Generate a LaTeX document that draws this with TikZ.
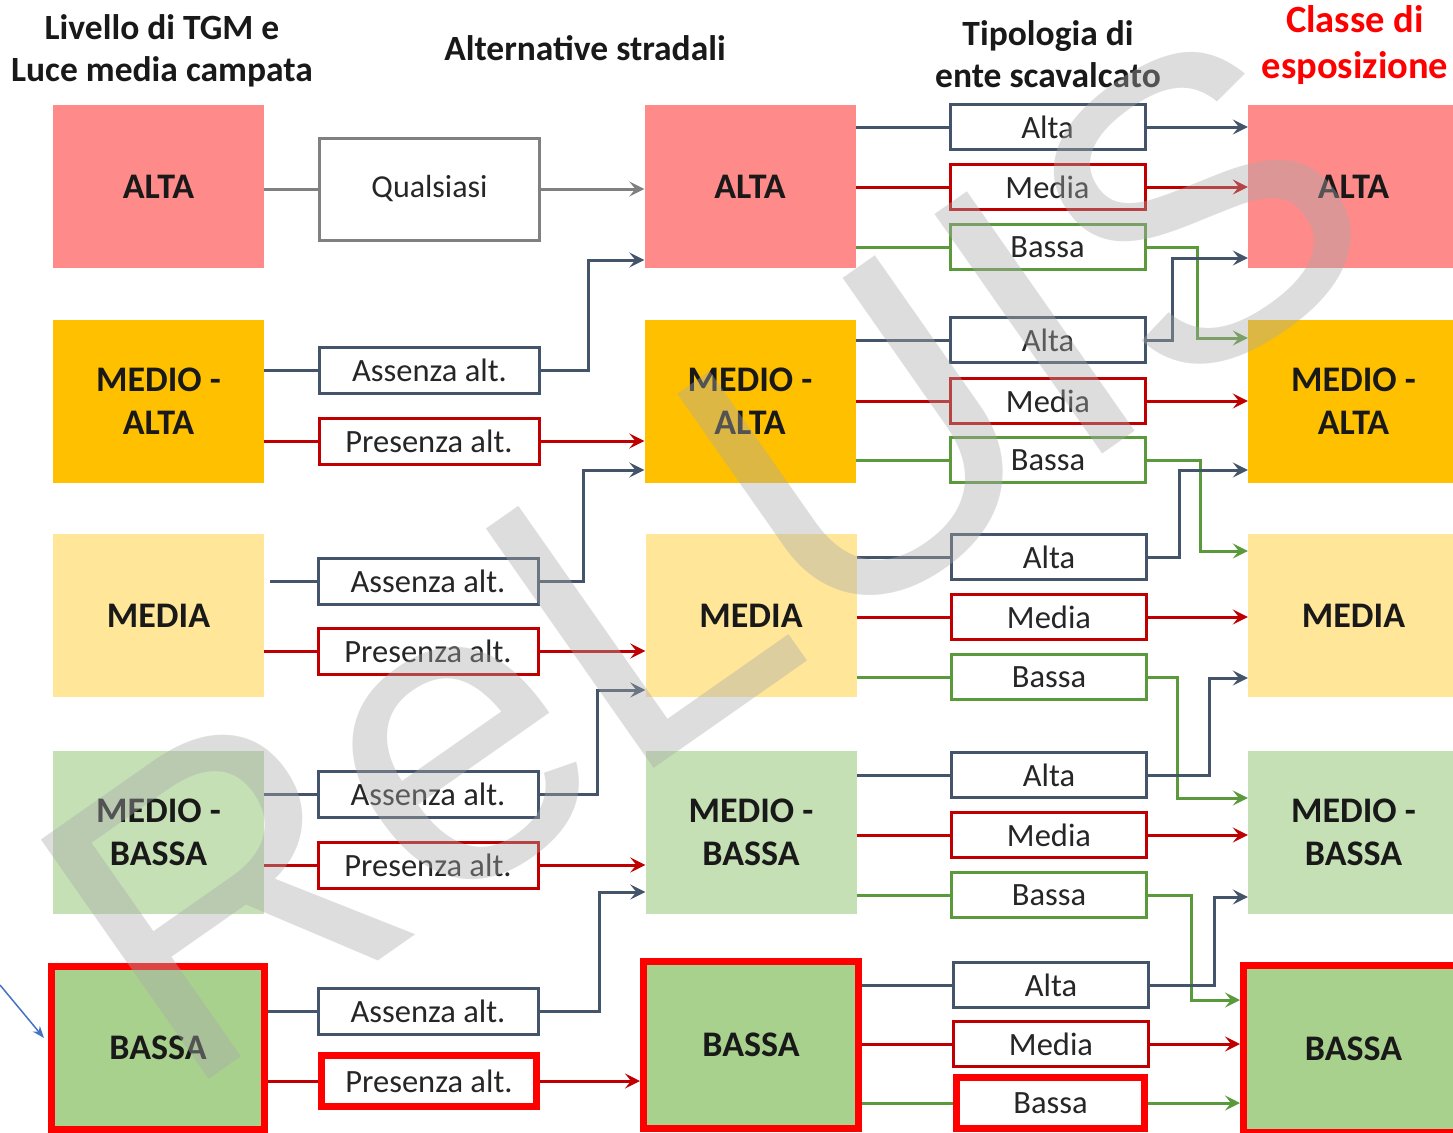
\documentclass[tikz,border=0pt]{standalone}
\usepackage{fontspec}
\setmainfont{Carlito}
\newfontfamily\wmfont{Liberation Sans}
\usetikzlibrary{arrows.meta,calc}
\definecolor{slate}{HTML}{44546A}
\definecolor{dred}{HTML}{C00000}
\definecolor{dgreen}{HTML}{5A9A3C}
\definecolor{qgray}{HTML}{808080}
\definecolor{hired}{HTML}{FF0000}
\definecolor{cAlta}{HTML}{FF8A8A}
\definecolor{cMA}{HTML}{FFC000}
\definecolor{cMedia}{HTML}{FFE699}
\definecolor{cMB}{HTML}{C5E0B4}
\definecolor{cBassa}{HTML}{A9D18E}
\definecolor{wmgray}{RGB}{170,170,170}
\definecolor{wire}{HTML}{4472C4}
\begin{document}
\begin{tikzpicture}[x=1pt,y=-1pt,
  big/.style={minimum width=211pt, minimum height=163pt, inner sep=0pt, align=center,
    font=\fontsize{36}{43}\selectfont\bfseries, text=black!90},
  altbox/.style={draw, line width=3pt, fill=white, minimum width=220pt, minimum height=46pt,
    inner sep=0pt, font=\fontsize{32.5}{36}\selectfont, text=black!85},
  typbox/.style={draw, line width=3pt, fill=white, minimum width=195pt, minimum height=45pt,
    inner sep=0pt, font=\fontsize{32.5}{36}\selectfont, text=black!85},
  hl/.style={draw=hired, line width=7pt},
  head/.style={align=center, font=\fontsize{35.5}{42}\selectfont\bfseries, text=black!90},
  conn/.style={line width=3pt},
  arr/.style={conn, -{Stealth[length=15pt,width=15pt,inset=6pt]}}
]
\useasboundingbox (0,0) rectangle (1453,1132);
\fill[white] (0,0) rectangle (1453,1132);

% headers
\node[head] (h1) at (162,51) {Livello di TGM e\\Luce media campata};
\node[head] (h2) at (585,48) {Alternative stradali};
\node[head] (h3) at (1048,54) {Tipologia di\\ente scavalcato};
\node[head, text=hired, font=\fontsize{38.5}{46}\selectfont\bfseries] (h4) at (1355,45) {Classe di\\esposizione};

% column 1
\node[big, fill=cAlta]  (c1r1) at (158.5,186.5) {ALTA};
\node[big, fill=cMA]    (c1r2) at (158.5,401) {MEDIO -\\ALTA};
\node[big, fill=cMedia] (c1r3) at (158.5,615.5) {MEDIA};
\node[big, fill=cMB]    (c1r4) at (158.5,832.5) {MEDIO -\\BASSA};
\node[big, fill=cBassa, hl, minimum width=213pt, minimum height=163pt] (c1r5) at (158,1048) {BASSA};

% column 3
\node[big, fill=cAlta]  (c3r1) at (750,186.5) {ALTA};
\node[big, fill=cMA]    (c3r2) at (750,401) {MEDIO -\\ALTA};
\node[big, fill=cMedia] (c3r3) at (751,615.5) {MEDIA};
\node[big, fill=cMB]    (c3r4) at (751,832.5) {MEDIO -\\BASSA};
\node[big, fill=cBassa, hl, minimum width=215pt, minimum height=167pt] (c3r5) at (751,1045) {BASSA};

% column 5
\node[big, fill=cAlta]  (c5r1) at (1353.5,186.5) {ALTA};
\node[big, fill=cMA]    (c5r2) at (1353.5,401) {MEDIO -\\ALTA};
\node[big, fill=cMedia] (c5r3) at (1353.5,615.5) {MEDIA};
\node[big, fill=cMB]    (c5r4) at (1353.5,832.5) {MEDIO -\\BASSA};
\node[big, fill=cBassa, hl, minimum width=220pt, minimum height=167pt] (c5r5) at (1353.5,1049) {BASSA};

% column 2
\node[altbox, draw=qgray, minimum height=102pt, font=\fontsize{32}{36}\selectfont] (q) at (429.5,189) {Qualsiasi};
\node[altbox, draw=slate] (a2) at (429.5,370) {Assenza alt.};
\node[altbox, draw=dred]  (p2) at (429,441) {Presenza alt.};
\node[altbox, draw=slate] (a3) at (428,581) {Assenza alt.};
\node[altbox, draw=dred]  (p3) at (428,651) {Presenza alt.};
\node[altbox, draw=slate] (a4) at (428,794) {Assenza alt.};
\node[altbox, draw=dred]  (p4) at (428,865) {Presenza alt.};
\node[altbox, draw=slate] (a5) at (428,1011) {Assenza alt.};
\node[altbox, hl, minimum width=215pt, minimum height=51pt] (p5) at (429,1081) {Presenza alt.};

% column 4
\node[typbox, draw=slate]  (t1a) at (1047.5,127) {Alta};
\node[typbox, draw=dred]   (t1m) at (1047.5,187) {Media};
\node[typbox, draw=dgreen] (t1b) at (1047.5,247) {Bassa};
\node[typbox, draw=slate]  (t2a) at (1048,340) {Alta};
\node[typbox, draw=dred]   (t2m) at (1048,401) {Media};
\node[typbox, draw=dgreen] (t2b) at (1048,460) {Bassa};
\node[typbox, draw=slate]  (t3a) at (1049,557) {Alta};
\node[typbox, draw=dred]   (t3m) at (1049,617) {Media};
\node[typbox, draw=dgreen] (t3b) at (1049,677) {Bassa};
\node[typbox, draw=slate]  (t4a) at (1049,775) {Alta};
\node[typbox, draw=dred]   (t4m) at (1049,835) {Media};
\node[typbox, draw=dgreen] (t4b) at (1049,895) {Bassa};
\node[typbox, draw=slate]  (t5a) at (1051,985) {Alta};
\node[typbox, draw=dred]   (t5m) at (1051,1044) {Media};
\node[typbox, hl, minimum width=188pt, minimum height=51pt] (t5b) at (1050.5,1103) {Bassa};

% column 1 -> column 2
\draw[conn, qgray] (c1r1.east |- q) -- (q.west);
\draw[conn, slate] (c1r2.east |- a2) -- (a2.west);
\draw[conn, dred]  (c1r2.east |- p2) -- (p2.west);
\draw[conn, slate] (c1r3.east |- a3) ++(6,0) -- (a3.west);
\draw[conn, dred]  (c1r3.east |- p3) -- (p3.west);
\draw[conn, slate] (c1r4.east |- a4) -- (a4.west);
\draw[conn, dred]  (c1r4.east |- p4) -- (p4.west);
\draw[conn, slate] (c1r5.east |- a5) -- (a5.west);
\draw[conn, dred]  (c1r5.east |- p5) -- (p5.west);

% column 2 -> column 3
\draw[arr, qgray] (q.east) -- (c3r1.west |- q);
\draw[arr, slate] (a2.east) -- ++(47,0) |- ($(c3r1.west)+(0,73.5)$);
\draw[arr, dred]  (p2.east) -- (c3r2.west |- p2);
\draw[arr, slate] (a3.east) -- ++(44,0) |- ($(c3r2.west)+(0,69)$);
\draw[arr, dred]  (p3.east) -- (c3r3.west |- p3);
\draw[arr, slate] (a4.east) -- ++(58,0) |- ($(c3r3.west)+(0,74.5)$);
\draw[arr, dred]  (p4.east) -- (c3r4.west |- p4);
\draw[arr, slate] (a5.east) -- ++(60,0) |- ($(c3r4.west)+(0,59.5)$);
\draw[arr, dred]  (p5.east) -- (c3r5.west |- p5);

% column 3 -> column 4
\foreach \r in {1,...,5}{
  \draw[conn, slate]  (c3r\r.east |- t\r a) -- (t\r a.west);
  \draw[conn, dred]   (c3r\r.east |- t\r m) -- (t\r m.west);
  \draw[conn, dgreen] (c3r\r.east |- t\r b) -- (t\r b.west);
}

% column 4 -> column 5
\draw[arr, slate]  (t1a.east) -- (c5r1.west |- t1a);
\draw[arr, dred]   (t1m.east) -- (c5r1.west |- t1m);
\draw[arr, dgreen] (t1b.east) -- ++(51,0) |- ($(c5r2.west)+(0,-63)$);
\draw[arr, slate]  (t2a.east) -- ++(25,0) |- ($(c5r1.west)+(0,71.5)$);
\draw[arr, dred]   (t2m.east) -- (c5r2.west |- t2m);
\draw[arr, dgreen] (t2b.east) -- ++(53,0) |- ($(c5r3.west)+(0,-64.5)$);
\draw[arr, slate]  (t3a.east) -- ++(31,0) |- ($(c5r2.west)+(0,69)$);
\draw[arr, dred]   (t3m.east) -- (c5r3.west |- t3m);
\draw[arr, dgreen] (t3b.east) -- ++(29,0) |- ($(c5r4.west)+(0,-34.5)$);
\draw[arr, slate]  (t4a.east) -- ++(61,0) |- ($(c5r3.west)+(0,62.5)$);
\draw[arr, dred]   (t4m.east) -- (c5r4.west |- t4m);
\draw[arr, dgreen] (t4b.east) -- ++(43,0) |- ($(c5r5.west)+(0,-49)$);
\draw[arr, slate]  (t5a.east) -- ++(64,0) |- ($(c5r4.west)+(0,64.5)$);
\draw[arr, dred]   (t5m.east) -- (c5r5.west |- t5m);
\draw[arr, dgreen] (t5b.east) -- (c5r5.west |- t5b);

% blue pointer
\coordinate (bp) at (0,985);
\draw[wire, line width=1.5pt, -{Stealth[length=12pt,width=9pt]}] (bp) -- ($(c1r5.west)+(-4,-10)$);

% watermark
\node[wmgray, opacity=0.4, anchor=base west, rotate=35, inner sep=0pt,
  font=\fontsize{425}{425}\wmfont] (wm) at (180,1100) {ReLUIS};
\end{tikzpicture}
\end{document}
